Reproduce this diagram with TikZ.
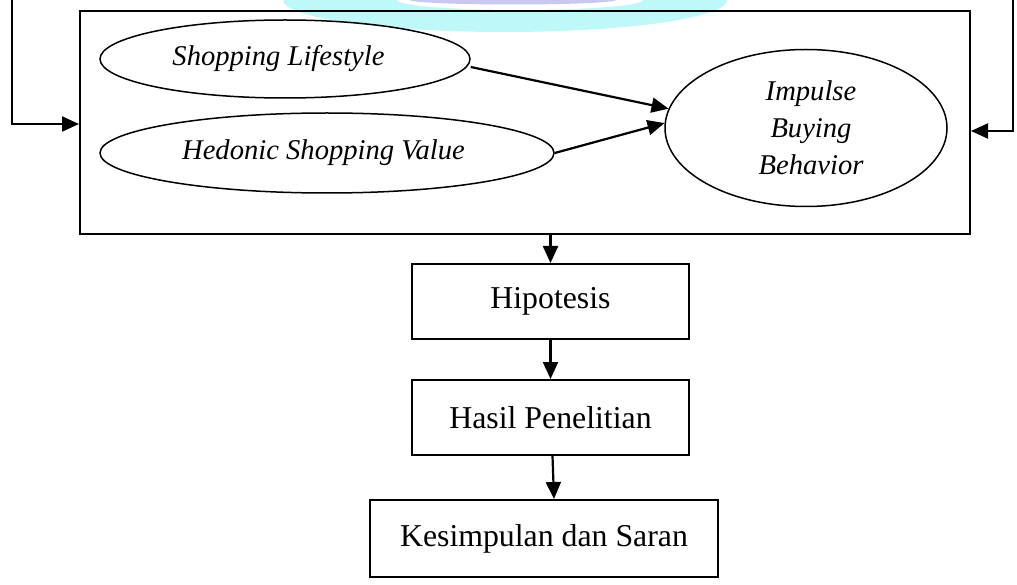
\documentclass[tikz,border=0pt]{standalone}
\usepackage{fontspec}
\setmainfont{Liberation Serif}
\usetikzlibrary{shapes.geometric,arrows.meta}
\definecolor{wmcyan}{RGB}{190,248,248}
\definecolor{wmlav}{RGB}{200,200,240}
\tikzset{
  arr/.style={line width=2.2pt,-{Triangle[length=17pt,width=15pt]}},
  oval/.style={draw,ellipse,line width=1.5pt,inner sep=0pt,font=\fontsize{28.6}{37}\selectfont\itshape},
  stepbox/.style={draw,rectangle,line width=2pt,inner sep=0pt,font=\fontsize{31.8}{38}\selectfont},
}
\begin{document}
\begin{tikzpicture}[x=1pt,y=-1pt]
\useasboundingbox (0,0) rectangle (1017,585);
% watermark
\fill[wmcyan] (283,0) arc[start angle=180,end angle=0,x radius=222,y radius=32] -- cycle;
\fill[white] (397,0) arc[start angle=180,end angle=0,x radius=123,y radius=10] -- cycle;
\fill[wmlav] (410,0) arc[start angle=180,end angle=0,x radius=103,y radius=4.5] -- cycle;
% frame
\node[draw,rectangle,line width=2pt,minimum width=890pt,minimum height=223pt,inner sep=0pt] (frame) at (525,122.5) {};
\node[oval,minimum width=370pt,minimum height=78pt] (sl) at (285,59) {\hspace*{-13pt}Shopping Lifestyle};
\node[oval,minimum width=454pt,minimum height=80pt] (hsv) at (327,153) {\hspace*{-7pt}Hedonic Shopping Value};
\node[oval,minimum width=282pt,minimum height=157pt,align=center] (ibb) at (806,128) {\hspace*{10pt}Impulse\\\hspace*{10pt}Buying\\\hspace*{10pt}Behavior};
\draw[arr] ([yshift=-8pt]sl.east) -- (ibb.172);
\draw[arr] (hsv.east) -- (ibb.178);
% feedback lines
\coordinate (lt) at (12,0);
\coordinate (rt) at (1013,0);
\draw[arr] (lt) |- ([yshift=-1.5pt]frame.west);
\draw[arr] (rt) |- ([yshift=-8.5pt]frame.east);
% flow boxes
\node[stepbox,minimum width=277pt,minimum height=75pt] (hip) at (550.5,301.5) {Hipotesis};
\node[stepbox,minimum width=277pt,minimum height=75pt] (hp) at (550.5,417.5) {Hasil Penelitian};
\node[stepbox,minimum width=348pt,minimum height=77pt] (ks) at (544,538.5) {Kesimpulan dan Saran};
\draw[arr] (frame.south -| hip.north) -- (hip.north);
\draw[arr] (hip.south) -- (hp.north);
\draw[arr] ([xshift=2pt]hp.south) -- ([xshift=10pt]ks.north);
\end{tikzpicture}
\end{document}
